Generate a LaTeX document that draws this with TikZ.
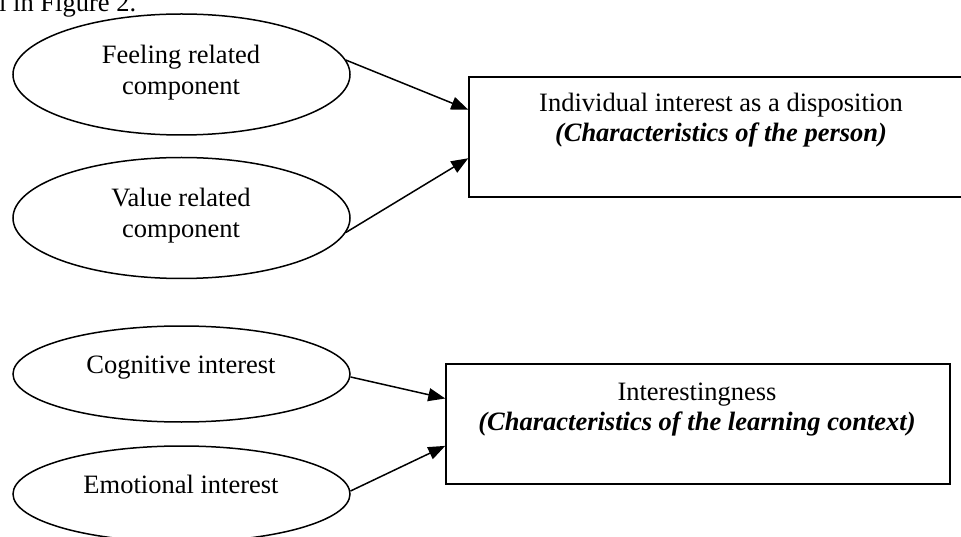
\documentclass[tikz,border=0pt]{standalone}
\usepackage{fontspec}
\setmainfont{Liberation Serif}
\usetikzlibrary{shapes.geometric,arrows.meta,calc}
\tikzset{
  oval/.style={draw, ellipse, line width=1.5pt, minimum width=337pt, inner sep=0pt},
  box/.style={draw, rectangle, line width=1.5pt, inner sep=0pt},
  lbl/.style={anchor=base, inner sep=0pt, font=\fontsize{26.5}{31}\selectfont},
  arr/.style={line width=1.5pt, -{Triangle[length=17pt,width=13pt]}}
}
\begin{document}
\begin{tikzpicture}[x=1pt,y=-1pt]
\useasboundingbox (0,0) rectangle (961,537);
\fill[white] (0,0) rectangle (961,537);
% partial text at top
\node[lbl, anchor=base west] (cap) at (-1,12) {l in Figure 2.};
% ellipses
\node[oval, minimum height=121pt] (feel) at (181.5,74.5) {};
\node[oval, minimum height=121pt] (val) at (181.5,218) {};
\node[oval, minimum height=96pt] (cog) at (181.5,374) {};
\node[oval, minimum height=96pt] (emo) at (181.5,494) {};
\node[lbl] (feelA) at (181,64) {Feeling related};
\node[lbl] (feelB) at (181,95) {component};
\node[lbl] (valA) at (181,207) {Value related};
\node[lbl] (valB) at (181,238) {component};
\node[lbl] (cogA) at (181,373) {Cognitive interest};
\node[lbl] (emoA) at (181,493) {Emotional interest};
% boxes
\node[box, minimum width=506pt, minimum height=120pt] (ind) at (722,137) {};
\node[box, minimum width=504pt, minimum height=120pt] (ctx) at (698,424) {};
\node[lbl] (indA) at (721,112) {Individual interest as a disposition};
\node[lbl] (indB) at (721,142) {\textbf{\textit{(Characteristics of the person)}}};
\node[lbl] (ctxA) at (697,400) {Interestingness};
\node[lbl] (ctxB) at (697,430) {\textbf{\textit{(Characteristics of the learning context)}}};
% connectors
\draw[arr] (feel.5) -- ($(ind.north west)!0.275!(ind.south west)$);
\draw[arr] (val.-5) -- ($(ind.north west)!0.675!(ind.south west)$);
\draw[arr] (cog.-1) -- ($(ctx.north west)!0.29!(ctx.south west)$);
\draw[arr] (emo.1) -- ($(ctx.north west)!0.68!(ctx.south west)$);
\end{tikzpicture}
\end{document}
